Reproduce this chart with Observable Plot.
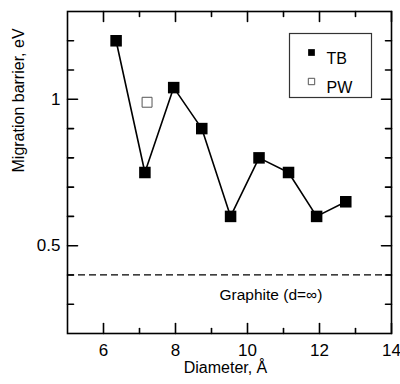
<!DOCTYPE html>
<html>
<head>
<meta charset="utf-8">
<script src="https://cdn.jsdelivr.net/npm/d3@7"></script>
<script src="https://cdn.jsdelivr.net/npm/@observablehq/plot@0.6"></script>
<style>
  html, body { margin: 0; padding: 0; background: #fff; }
  #chart { width: 400px; height: 384px; }
</style>
</head>
<body>
<div id="chart"></div>
<script>
// Data
const tbDiameter = [6.35, 7.15, 7.95, 8.73, 9.53, 10.32, 11.14, 11.92, 12.73];
const tbBarrier  = [1.20, 0.75, 1.04, 0.90, 0.60, 0.80, 0.75, 0.60, 0.65];
const pwDiameter = [7.21];
const pwBarrier  = [0.99];
const graphiteBarrier = [0.4];
const legendLabels = ["TB", "PW"];

const xMajorTicks = [6, 8, 10, 12, 14];
const xMinorTicks = [7, 9, 11, 13];
const yMajorTicks = [0.5, 1];
const yMinorTicks = [0.3, 0.4, 0.6, 0.7, 0.8, 0.9, 1.1, 1.2];

const tb = tbDiameter.map((d, i) => ({d, e: tbBarrier[i]}));
const pw = pwDiameter.map((d, i) => ({d, e: pwBarrier[i]}));

const font = "'Liberation Sans', Arial, Helvetica, sans-serif";

// inward ticks on all four sides of the frame, as short vectors
const lineShape = {draw(context, l) { context.moveTo(0, 0); context.lineTo(0, -l); }};
const rotations = {bottom: 0, top: 180, left: 90, right: -90};
function ticks(anchor, values, size) {
  const ch = (anchor === "bottom" || anchor === "top") ? "x" : "y";
  return Plot.vector(values, {
    [ch]: d => d,
    frameAnchor: anchor,
    length: size,
    rotate: rotations[anchor],
    anchor: "start",
    shape: lineShape,
    stroke: "black",
    strokeWidth: 1.6
  });
}

const plot = Plot.plot({
  width: 400,
  height: 384,
  marginLeft: 67,
  marginRight: 9,
  marginTop: 11,
  marginBottom: 51,
  style: {fontFamily: font},
  x: {type: "linear", domain: [5, 14], axis: null},
  y: {type: "linear", domain: [0.2, 1.3], axis: null},
  marks: [
    // tick labels
    Plot.text(xMajorTicks, {x: d => d, text: d => String(d), frameAnchor: "bottom", dy: 17, fontSize: 17, lineAnchor: "middle"}),
    Plot.text(yMajorTicks, {y: d => d, text: d => String(d), frameAnchor: "left", dx: -7, fontSize: 17, textAnchor: "end"}),
    // axis titles
    Plot.text(["Diameter, Å"], {text: d => d, frameAnchor: "bottom", dy: 34, dx: -4, fontSize: 16, lineAnchor: "middle"}),
    Plot.text(["Migration barrier, eV"], {text: d => d, frameAnchor: "left", dx: -49, rotate: -90, fontSize: 16}),
    // graphite reference
    Plot.ruleY(graphiteBarrier, {y: d => d, stroke: "black", strokeWidth: 1.3, strokeDasharray: "7,4"}),
    Plot.text(graphiteBarrier, {y: d => d, text: () => "Graphite (d=∞)", frameAnchor: "left", dx: 152, dy: 20, fontSize: 15.5, ariaLabel: "graphite"}),
    // data
    Plot.line(tb, {x: "d", y: "e", stroke: "black", strokeWidth: 1.6}),
    Plot.dot(tb, {x: "d", y: "e", symbol: "square", r: 6.5, fill: "black", stroke: "none"}),
    Plot.dot(pw, {x: "d", y: "e", symbol: "square", r: 5.6, fill: "white", stroke: "#555", strokeWidth: 1}),
    // legend
    Plot.frame({insetLeft: 222, insetRight: 20, insetTop: 22, insetBottom: 236, stroke: "#333", strokeWidth: 1.2}),
    Plot.dot([legendLabels[0]], {frameAnchor: "top-right", dx: -80, dy: 41, symbol: "square", r: 3.8, fill: "black"}),
    Plot.dot([legendLabels[1]], {frameAnchor: "top-right", dx: -80, dy: 70, symbol: "square", r: 3.6, fill: "white", stroke: "#555", strokeWidth: 1}),
    Plot.text([legendLabels[0]], {text: d => d, frameAnchor: "top-right", dx: -65, dy: 41, textAnchor: "start", fontSize: 16}),
    Plot.text([legendLabels[1]], {text: d => d, frameAnchor: "top-right", dx: -65, dy: 70, textAnchor: "start", fontSize: 16}),
    Plot.frame({stroke: "black", strokeWidth: 1.6}),
    // ticks drawn last
    ticks("bottom", xMajorTicks, 10),
    ticks("bottom", xMinorTicks, 5),
    ticks("top", xMajorTicks, 10),
    ticks("top", xMinorTicks, 5),
    ticks("left", yMajorTicks, 10),
    ticks("left", yMinorTicks, 6),
    ticks("right", yMajorTicks, 10),
    ticks("right", yMinorTicks, 6)
  ]
});

document.getElementById("chart").appendChild(plot);

// italic "d" in the graphite annotation
const g = plot.querySelector('[aria-label="graphite"]');
if (g) {
  const t = g.querySelector("text");
  if (t) {
    const ns = "http://www.w3.org/2000/svg";
    while (t.firstChild) t.removeChild(t.firstChild);
    t.appendChild(document.createTextNode("Graphite ("));
    const ts = document.createElementNS(ns, "tspan");
    ts.setAttribute("font-style", "italic");
    ts.textContent = "d";
    t.appendChild(ts);
    t.appendChild(document.createTextNode("=∞)"));
  }
}
</script>
</body>
</html>
